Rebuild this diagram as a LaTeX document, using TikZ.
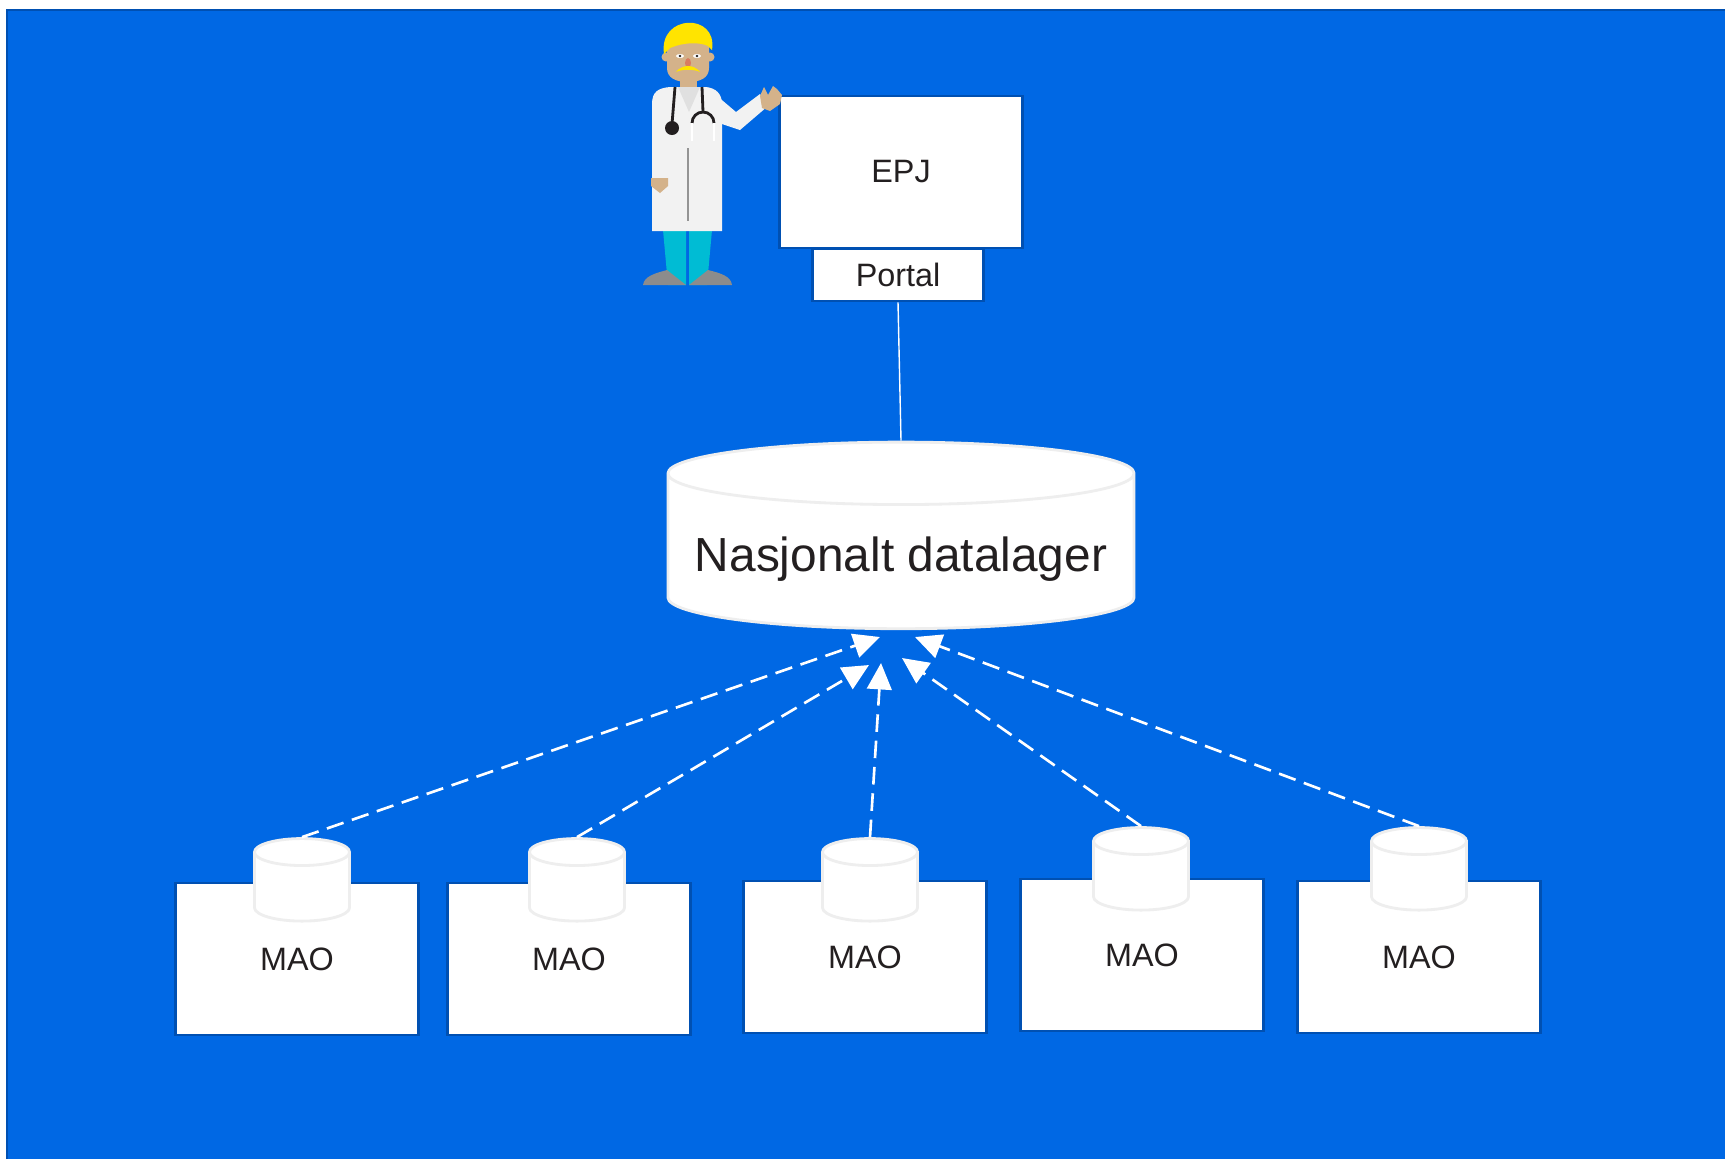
\documentclass[tikz,border=0pt]{standalone}
\usepackage{fontspec}
\setmainfont{Liberation Sans}
\usepackage{tikz}
\usetikzlibrary{arrows.meta,shapes.geometric}
\usepackage{xcolor}

\definecolor{bgblue}{RGB}{0,104,228}
\definecolor{edgeblue}{RGB}{0,80,178}
\definecolor{inkdark}{RGB}{35,31,32}
\definecolor{cylgray}{RGB}{238,238,238}
\definecolor{hairyellow}{RGB}{255,228,0}
\definecolor{skintan}{RGB}{212,178,138}
\definecolor{coatgray}{RGB}{242,242,242}
\definecolor{pantcyan}{RGB}{0,188,212}
\definecolor{shoegray}{RGB}{140,140,140}

\begin{document}
\begin{tikzpicture}[
    x=0.01cm, y=-0.01cm,
    box/.style={draw=edgeblue, fill=white, line width=0.8pt, inner sep=0pt, text=inkdark, font=\fontsize{9.2}{11}\selectfont},
    mao/.style={box, minimum width=2.43cm, minimum height=1.52cm},
    store/.style={cylinder, shape border rotate=90, draw=cylgray, fill=white, line width=0.8pt, inner ysep=0pt, text=inkdark},
    smallstore/.style={store, inner xsep=0.475cm, minimum width=0.95cm, minimum height=0.825cm, aspect=0.284},
    feed/.style={-{Triangle[length=7.5pt,width=7pt]}, white, line width=0.75pt, dash pattern=on 5pt off 2.5pt}
]
\useasboundingbox (0,0) rectangle (1725,1159);
\fill[white] (0,0) rectangle (1725,1159);

% background panel
\fill[bgblue] (7,10) rectangle (1725,1159);
\draw[edgeblue, line width=0.8pt] (7,1159) -- (7,10) -- (1725,10);

% top: record system and portal
\node[box, minimum width=2.43cm, minimum height=1.52cm] (epj) at (901,172) {EPJ};
\node[box, minimum width=1.71cm, minimum height=0.52cm] (portal) at (898,275) {Portal};

% central store
\node[store, inner xsep=0.27cm, minimum width=4.64cm, minimum height=1.865cm, aspect=0.134,
      font=\fontsize{13.6}{16}\selectfont] (db) at (901,559) {Nasjonalt datalager};
\draw[white, line width=0.4pt] (portal.south) -- (db.north);

% local sources
\node[mao] (m1) at (297,959) {MAO};
\node[mao] (m2) at (569,959) {MAO};
\node[mao] (m3) at (865,957) {MAO};
\node[mao] (m4) at (1142,955) {MAO};
\node[mao] (m5) at (1419,957) {MAO};

\node[smallstore] (c1) at (302,894) {};
\node[smallstore] (c2) at (577,894) {};
\node[smallstore] (c3) at (870,894) {};
\node[smallstore] (c4) at (1141,883) {};
\node[smallstore] (c5) at (1419,883) {};

\coordinate (t1) at (880,637);
\coordinate (t2) at (869,665);
\coordinate (t3) at (881,663);
\coordinate (t4) at (902,658);
\coordinate (t5) at (915,637);

\draw[feed] (c1.north) -- (t1);
\draw[feed] (c2.north) -- (t2);
\draw[feed] (c3.north) -- (t3);
\draw[feed] (c4.north) -- (t4);
\draw[feed] (c5.north) -- (t5);

% doctor
\fill[pantcyan] (663,230) -- (686,230) -- (686,285) -- (668,285) -- cycle;
\fill[pantcyan] (689,230) -- (712,230) -- (707,285) -- (689,285) -- cycle;
\fill[shoegray] (643,285) .. controls (644,276) and (656,273) .. (667,270) -- (686,285) -- cycle;
\fill[shoegray] (689,285) -- (708,270) .. controls (720,273) and (731,276) .. (732,285) -- cycle;
\fill[skintan] (680,76) rectangle (697,92);
\fill[coatgray] (716,95) -- (736,112) -- (760,94) -- (768,106) -- (740,130) -- (722,124) -- cycle;
\fill[coatgray] (652,231) -- (652,104) .. controls (652,92) and (658,88) .. (670,87)
    -- (706,87) .. controls (716,88) and (722,94) .. (722,104) -- (722,231) -- cycle;
\fill[black!12] (678,87) -- (700,87) -- (689,112) -- cycle;
\fill[skintan] (762,108) -- (760,96) -- (764,87) -- (768,95) -- (773,86) -- (777,89) -- (782,95) -- (780,104) -- (770,111) -- cycle;
\fill[skintan] (651,178) -- (668,178) -- (668,186) -- (660,193) -- (651,186) -- cycle;
\draw[black!42, line width=0.35pt] (688,148) -- (688,221);
% stethoscope
\draw[inkdark, line width=0.8pt] (675,87) -- (672,124);
\fill[inkdark] (672,128) circle[radius=7];
\draw[inkdark, line width=0.8pt] (702,87) -- (703,112);
\draw[inkdark, line width=0.8pt] (692,123) arc[start angle=180, end angle=360, radius=11];
\draw[white, line width=0.8pt] (692,123) -- (692,141) (714,123) -- (714,141);
% head
\fill[skintan] (666,57) circle[radius=4.5] (710,57) circle[radius=4.5];
\fill[skintan] (667,36) -- (709,36) -- (709,68) .. controls (709,78) and (700,82) .. (688,82)
    .. controls (676,82) and (667,78) .. (667,68) -- cycle;
\fill[hairyellow] (664,54) .. controls (658,14) and (718,12) .. (712,50)
    -- (708,46) .. controls (700,42) and (684,42) .. (670,48) -- cycle;
\fill[white] (680,56) ellipse[x radius=4, y radius=2] (697,56) ellipse[x radius=4, y radius=2];
\fill[inkdark] (680,56) circle[radius=1.3] (697,56) circle[radius=1.3];
\fill[black!10!red!30!skintan] (688,63) ellipse[x radius=3, y radius=5];
\fill[hairyellow] (676,72) .. controls (682,64) and (694,64) .. (700,72)
    .. controls (694,69) and (682,69) .. cycle;
\end{tikzpicture}
\end{document}
